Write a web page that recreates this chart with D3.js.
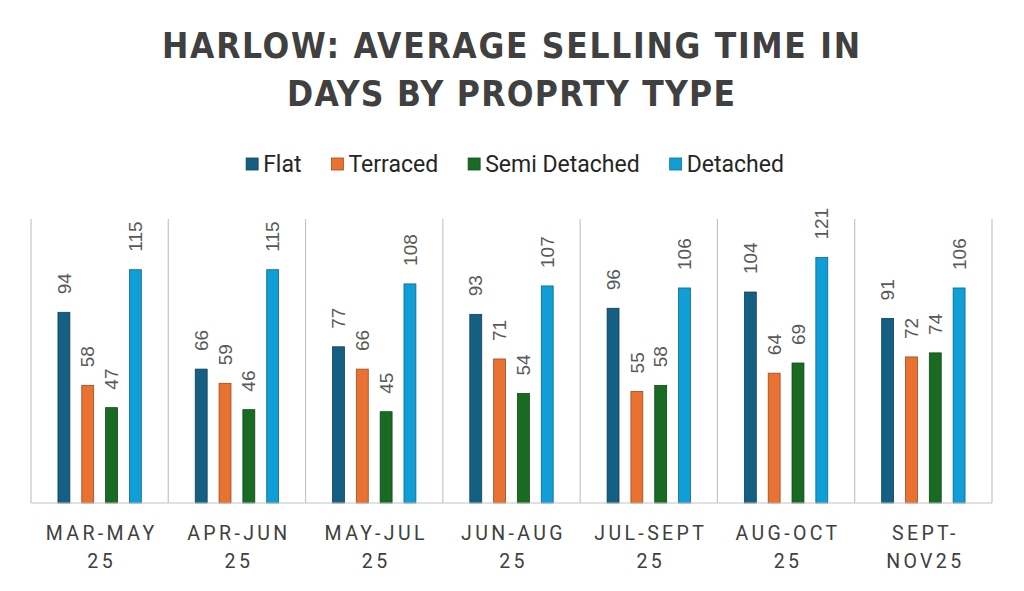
<!DOCTYPE html>
<html>
<head>
<meta charset="utf-8">
<script src="https://cdn.jsdelivr.net/npm/d3@7"></script>
<style>
  html, body { margin: 0; padding: 0; background: #fff; }
  svg { display: block; }
</style>
</head>
<body>
<div id="chart"></div>
<script>
// periods (two lines each, as on the axis)
const categories = [
  ['MAR-MAY', '25'],
  ['APR-JUN', '25'],
  ['MAY-JUL', '25'],
  ['JUN-AUG', '25'],
  ['JUL-SEPT', '25'],
  ['AUG-OCT', '25'],
  ['SEPT-', 'NOV25']
];
const seriesNames = ['Flat', 'Terraced', 'Semi Detached', 'Detached'];
const flat = [94, 66, 77, 93, 96, 104, 91];
const terraced = [58, 59, 66, 71, 55, 64, 72];
const semiDetached = [47, 46, 45, 54, 58, 69, 74];
const detached = [115, 115, 108, 107, 106, 121, 106];
const colors = ['#156082', '#e97132', '#196b24', '#0f9ed5'];
const titleLines = ['HARLOW: AVERAGE SELLING TIME IN', 'DAYS BY PROPRTY TYPE'];

const W = 1024, H = 591;
const margin = {left: 31, right: 32, top: 219, bottom: 88};
const values = [flat, terraced, semiDetached, detached];

const svg = d3.select('#chart').append('svg')
  .attr('width', W)
  .attr('height', H);

// title
svg.selectAll('text.title')
  .data(titleLines)
  .enter().append('text')
  .attr('class', 'title')
  .attr('x', 511)
  .attr('y', (d, i) => 58 + i * 48)
  .attr('text-anchor', 'middle')
  .attr('font-family', "'Liberation Sans Narrow', 'DejaVu Sans Condensed', Roboto, sans-serif")
  .attr('font-weight', 'bold')
  .attr('font-size', 35)
  .attr('fill', '#404040')
  .attr('textLength', (d, i) => i === 0 ? 698 : 448)
  .attr('lengthAdjust', 'spacing')
  .text(d => d);

// legend, laid out from the text widths
const legend = svg.append('g').attr('class', 'legend');
let lx = 0;
seriesNames.forEach((name, i) => {
  const item = legend.append('g').attr('transform', 'translate(' + lx + ',0)');
  item.append('rect')
    .attr('x', 0).attr('y', -6)
    .attr('width', 12).attr('height', 12)
    .attr('fill', colors[i])
    .attr('stroke', d3.color(colors[i]).darker(1))
    .attr('stroke-width', 0.8);
  const t = item.append('text')
    .attr('x', 17).attr('y', 8)
    .attr('font-family', 'Roboto, sans-serif')
    .attr('font-size', 23)
    .attr('fill', '#262626')
    .text(name);
  lx += 17 + t.node().getComputedTextLength() + 30;
});
const legendWidth = lx - 30;
legend.attr('transform', 'translate(' + (515 - legendWidth / 2) + ',164)');

// scales
const x0 = d3.scaleBand()
  .domain(d3.range(categories.length))
  .range([margin.left, W - margin.right]);

const x1 = d3.scaleBand()
  .domain(d3.range(seriesNames.length))
  .range([21, x0.bandwidth() - 21])
  .paddingInner(0.5)
  .paddingOuter(0.25);

const y = d3.scaleLinear()
  .domain([0, 140])
  .range([H - margin.bottom, margin.top]);

// vertical separators between periods
const edges = d3.range(categories.length + 1).map(i => margin.left + i * x0.step());
svg.append('g').selectAll('line')
  .data(edges)
  .enter().append('line')
  .attr('x1', d => d).attr('x2', d => d)
  .attr('y1', y(140)).attr('y2', y(0))
  .attr('stroke', '#c4c4c4')
  .attr('stroke-width', 1.2);

// bars
const groups = svg.append('g').selectAll('g')
  .data(categories)
  .enter().append('g')
  .attr('transform', (d, i) => 'translate(' + x0(i) + ',0)');

groups.each(function(c, ci) {
  const g = d3.select(this);
  seriesNames.forEach((s, si) => {
    const v = values[si][ci];
    g.append('rect')
      .attr('x', x1(si))
      .attr('y', y(v))
      .attr('width', x1.bandwidth())
      .attr('height', y(0) - y(v))
      .attr('fill', colors[si])
      .attr('stroke', d3.color(colors[si]).darker(1.2))
      .attr('stroke-width', 0.8);
    g.append('text')
      .attr('transform', 'translate(' + (x1(si) + x1.bandwidth() / 2) + ',' + (y(v) - 18) + ') rotate(-90)')
      .attr('dy', '0.35em')
      .attr('text-anchor', 'start')
      .attr('font-family', "'Liberation Sans', Arial, sans-serif")
      .attr('font-size', 19)
      .attr('fill', '#595959')
      .text(v);
  });
});

// baseline
svg.append('line')
  .attr('x1', margin.left).attr('x2', W - margin.right)
  .attr('y1', y(0)).attr('y2', y(0))
  .attr('stroke', '#c4c4c4')
  .attr('stroke-width', 1.2);

// category labels
const xl = svg.append('g').selectAll('text')
  .data(categories)
  .enter().append('text')
  .attr('x', (d, i) => x0(i) + x0.bandwidth() / 2 + 2)
  .attr('y', 540)
  .attr('text-anchor', 'middle')
  .attr('font-family', 'Roboto, sans-serif')
  .attr('font-size', 19.5)
  .attr('letter-spacing', 3.4)
  .attr('fill', '#404040');

xl.selectAll('tspan')
  .data(d => d)
  .enter().append('tspan')
  .attr('x', function() { return d3.select(this.parentNode).attr('x'); })
  .attr('dy', (d, i) => i === 0 ? 0 : 28)
  .text(d => d);
</script>
</body>
</html>
